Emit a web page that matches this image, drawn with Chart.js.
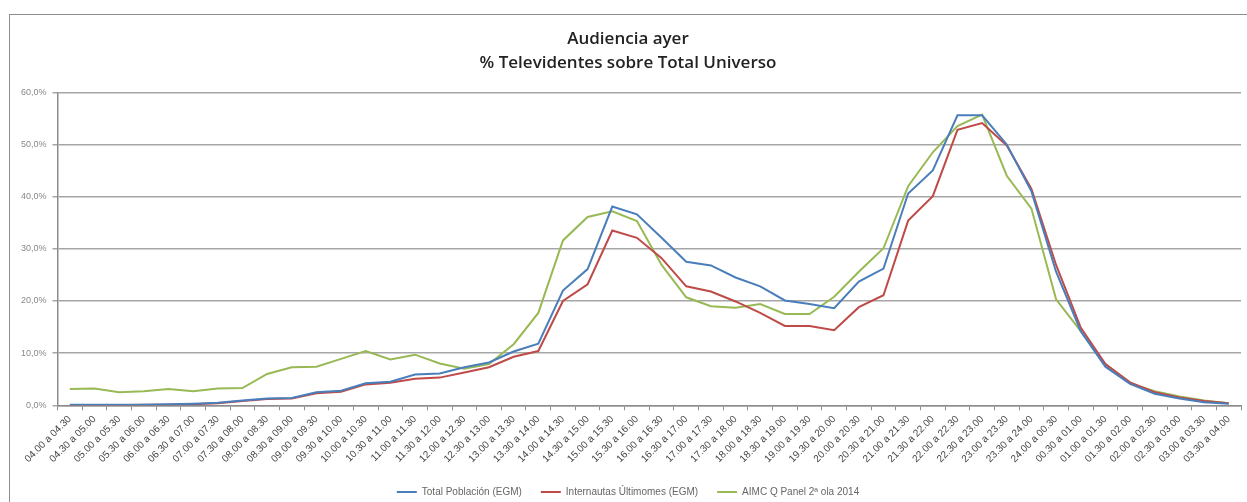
<!DOCTYPE html>
<html>
<head>
<meta charset="utf-8">
<script src="https://cdn.jsdelivr.net/npm/chart.js@4.4.1/dist/chart.umd.min.js"></script>
<style>
  body { margin: 0; background: #fff; }
  #wrap { position: relative; width: 1247px; height: 502px; }
  #frame { position: absolute; left: 9px; top: 14px; right: 0; bottom: 0;
           border-top: 1px solid #8c8c8c; border-left: 1px solid #8c8c8c; }
  canvas { position: absolute; left: 0; top: 0; }
</style>
</head>
<body>
<div id="wrap">
  <div id="frame"></div>
  <canvas id="audChart" width="1247" height="502"></canvas>
</div>
<script>
const franjas = [
    '04.00 a 04.30', '04.30 a 05.00', '05.00 a 05.30', '05.30 a 06.00', '06.00 a 06.30', '06.30 a 07.00',
    '07.00 a 07.30', '07.30 a 08.00', '08.00 a 08.30', '08.30 a 09.00', '09.00 a 09.30', '09.30 a 10.00',
    '10.00 a 10.30', '10.30 a 11.00', '11.00 a 11.30', '11.30 a 12.00', '12.00 a 12.30', '12.30 a 13.00',
    '13.00 a 13.30', '13.30 a 14.00', '14.00 a 14.30', '14.30 a 15.00', '15.00 a 15.30', '15.30 a 16.00',
    '16.00 a 16.30', '16.30 a 17.00', '17.00 a 17.30', '17.30 a 18.00', '18.00 a 18.30', '18.30 a 19.00',
    '19.00 a 19.30', '19.30 a 20.00', '20.00 a 20.30', '20.30 a 21.00', '21.00 a 21.30', '21.30 a 22.00',
    '22.00 a 22.30', '22.30 a 23.00', '23.00 a 23.30', '23.30 a 24.00', '24.00 a 00.30', '00.30 a 01.00',
    '01.00 a 01.30', '01.30 a 02.00', '02.00 a 02.30', '02.30 a 03.00', '03.00 a 03.30', '03.30 a 04.00'
];

// % televidentes por franja
const totalPoblacion = [
    0.1, 0.1, 0.1, 0.1, 0.2, 0.3, 0.5, 0.9, 1.3, 1.4,
    2.5, 2.8, 4.2, 4.5, 5.9, 6.1, 7.3, 8.2, 10.3, 11.8,
    22.0, 26.1, 38.1, 36.6, 32.1, 27.5, 26.8, 24.5, 22.8, 20.1,
    19.4, 18.6, 23.7, 26.2, 40.6, 45.0, 55.6, 55.6, 50.0, 41.0,
    25.6, 14.2, 7.4, 4.1, 2.2, 1.3, 0.6, 0.3
];
const internautas = [
    0.0, 0.0, 0.0, 0.1, 0.1, 0.2, 0.4, 0.8, 1.2, 1.3,
    2.3, 2.6, 4.0, 4.3, 5.1, 5.3, 6.3, 7.3, 9.3, 10.4,
    20.0, 23.2, 33.5, 32.1, 28.2, 22.8, 21.8, 19.9, 17.7, 15.2,
    15.2, 14.4, 18.8, 21.1, 35.4, 40.1, 52.8, 54.1, 49.8, 41.5,
    26.9, 14.9, 7.9, 4.4, 2.5, 1.5, 0.8, 0.4
];
const aimcPanel = [
    3.1, 3.2, 2.5, 2.7, 3.1, 2.7, 3.2, 3.3, 6.0, 7.3,
    7.4, 8.9, 10.4, 8.8, 9.7, 8.0, 7.0, 7.9, 11.7, 17.7,
    31.6, 36.1, 37.2, 35.3, 26.9, 20.7, 19.0, 18.7, 19.4, 17.5,
    17.5, 20.8, 25.6, 30.1, 42.0, 48.5, 53.5, 55.7, 44.0, 37.7,
    20.3, 14.2, 7.9, 4.2, 2.7, 1.7, 0.9, 0.4
];

const series = [
    { label: 'Total Población (EGM)', data: totalPoblacion, color: '#4a7ebb' },
    { label: 'Internautas Últimomes (EGM)', data: internautas, color: '#be4b48' },
    { label: 'AIMC Q Panel 2ª ola 2014', data: aimcPanel, color: '#98b954' }
];

const ctx = document.getElementById('audChart').getContext('2d');

new Chart(ctx, {
    type: 'line',
    data: {
        labels: franjas,
        datasets: series.map(s => ({
            label: s.label,
            data: s.data,
            borderColor: s.color,
            backgroundColor: s.color,
            borderWidth: 2,
            pointRadius: 0,
            pointStyle: 'line',
            tension: 0,
            fill: false
        }))
    },
    options: {
        responsive: false,
        animation: false,
        layout: { padding: { left: 15, right: 6, top: 19, bottom: -5 } },
        plugins: {
            title: {
                display: true,
                text: ['Audiencia ayer', '% Televidentes sobre Total Universo'],
                color: '#222',
                font: { family: 'Open Sans', size: 17, weight: '600', lineHeight: 1.42 },
                padding: { top: 8, bottom: 17 }
            },
            legend: {
                position: 'bottom',
                labels: {
                    usePointStyle: true,
                    pointStyleWidth: 20,
                    color: '#666',
                    font: { family: 'Liberation Sans', size: 10 },
                    padding: 19
                }
            },
            tooltip: { enabled: false }
        },
        scales: {
            x: {
                offset: true,
                grid: {
                    offset: true,
                    drawOnChartArea: false,
                    drawTicks: true,
                    tickLength: 5,
                    color: '#8c8c8c'
                },
                border: { color: '#8c8c8c', width: 1.5 },
                ticks: {
                    autoSkip: false,
                    maxRotation: 45,
                    minRotation: 45,
                    color: '#444',
                    font: { family: 'Liberation Sans', size: 10 },
                    padding: 3
                }
            },
            y: {
                min: 0,
                max: 60,
                grid: {
                    color: '#a6a6a6',
                    lineWidth: 1.5,
                    tickLength: 5
                },
                border: { color: '#8c8c8c', width: 1.5 },
                ticks: {
                    stepSize: 10,
                    color: '#888',
                    font: { family: 'Liberation Sans', size: 9 },
                    padding: 6,
                    callback: v => v.toFixed(1).replace('.', ',') + '%'
                }
            }
        }
    }
});
</script>
</body>
</html>
